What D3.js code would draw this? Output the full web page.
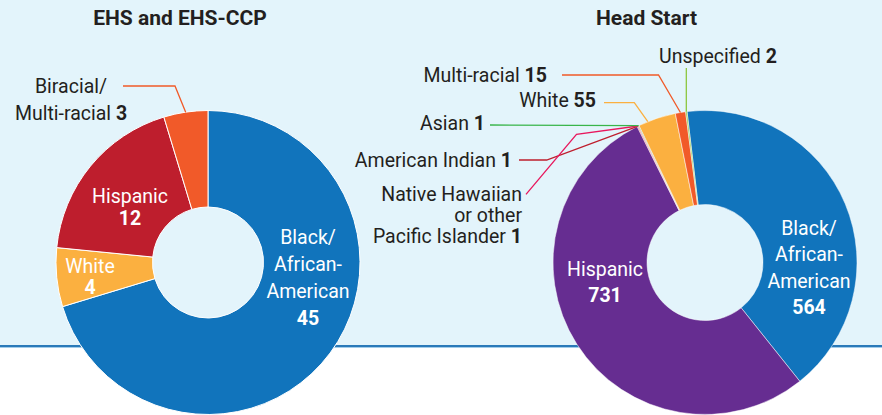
<!DOCTYPE html>
<html>
<head>
<meta charset="utf-8">
<script src="https://cdn.jsdelivr.net/npm/d3@7"></script>
<style>
  body { margin: 0; background: #fff; }
  svg { display: block; font-family: Roboto, "Liberation Sans", sans-serif; }
</style>
</head>
<body>
<svg id="chart" width="882" height="415"></svg>
<script>
// data
const ehsCategories = ["Black/African-American", "White", "Hispanic", "Biracial/Multi-racial"];
const ehsValues = [45, 4, 12, 3];
const ehsColors = ["#1174bc", "#fbb040", "#be1e2d", "#f15a29"];

const hsCategories = ["Black/African-American", "Hispanic", "American Indian",
  "Native Hawaiian or other Pacific Islander", "Asian", "White", "Multi-racial", "Unspecified"];
const hsValues = [564, 731, 1, 1, 1, 55, 15, 2];
const hsColors = ["#1174bc", "#662d91", "#be1e2d", "#e8175d", "#39b54a", "#fbb040", "#f15a29", "#8dc63f"];

const dark = "#231f20";

// label layout (text lines, position, leader lines)
const ehsLabels = {
  "Black/African-American": { lines: ["Black/", "African-", "American"], x: 308, y: 244.3, lh: 27, anchor: "middle", fill: "#fff", own: true },
  "White": { lines: ["White"], x: 90, y: 272.5, lh: 21.5, anchor: "middle", fill: "#fff", own: true },
  "Hispanic": { lines: ["Hispanic"], x: 130, y: 203, lh: 22, anchor: "middle", fill: "#fff", own: true },
  "Biracial/Multi-racial": { lines: ["Biracial/", "Multi-racial"], x: 71, y: 93, lh: 27, anchor: "middle", fill: dark, own: false,
    leader: { from: [123, 86], via: [175, 86], at: 0.5, color: "#f15a29" } }
};
const hsLabels = {
  "Black/African-American": { lines: ["Black/", "African-", "American"], x: 809, y: 235, lh: 26.4, anchor: "middle", fill: "#fff", own: true },
  "Hispanic": { lines: ["Hispanic"], x: 605, y: 276, lh: 25.7, anchor: "middle", fill: "#fff", own: true },
  "American Indian": { lines: ["American Indian"], x: 512, y: 166.7, anchor: "end", fill: dark, own: false,
    leader: { from: [519, 160], via: [546.7, 160], at: 0.5, color: "#be1e2d" } },
  "Native Hawaiian or other Pacific Islander": { lines: ["Native Hawaiian", "or other", "Pacific Islander"], x: 522, y: 200.5, lh: 21, anchor: "end", fill: dark, own: false,
    leader: { from: [526, 194.3], via: [576.5, 134.3], at: 0.5, color: "#e8175d" } },
  "Asian": { lines: ["Asian"], x: 485, y: 130, anchor: "end", fill: dark, own: false,
    leader: { from: [490, 125], via: null, at: 0.5, color: "#39b54a" } },
  "White": { lines: ["White"], x: 596, y: 107.3, anchor: "end", fill: dark, own: false,
    leader: { from: [604, 102.7], via: [634.3, 102.7], at: 0.25, color: "#fbb040" } },
  "Multi-racial": { lines: ["Multi-racial"], x: 547, y: 81.7, anchor: "end", fill: dark, own: false,
    leader: { from: [562, 75], via: [658.5, 75], at: 0.5, color: "#f15a29" } },
  "Unspecified": { lines: ["Unspecified"], x: 659, y: 63.3, anchor: "start", fill: dark, own: false,
    leader: { vertical: 68, at: 0.5, color: "#8dc63f" } }
};

const W = 882, H = 415;
const outerR = 152;
const deg = Math.PI / 180;

const svg = d3.select("#chart");

// background panel + rule
svg.append("rect").attr("width", W).attr("height", 345).attr("fill", "#e3f4fb");
svg.append("rect").attr("y", 345).attr("width", W).attr("height", 2).attr("fill", "#2a7ab9");
svg.append("rect").attr("y", 347).attr("width", W).attr("height", 1).attr("fill", "#a3cdea");

const charts = [
  { title: "EHS and EHS-CCP", titleX: 180, cx: 208, cy: 262.5, inner: 55.5, start: 0,
    cats: ehsCategories, values: ehsValues, colors: ehsColors, labels: ehsLabels, stroke: 1 },
  { title: "Head Start", titleX: 646.5, cx: 705, cy: 262.5, inner: 58, start: -6.8 * deg,
    cats: hsCategories, values: hsValues, colors: hsColors, labels: hsLabels, stroke: 0.5 }
];

const lineGen = d3.line();

charts.forEach(c => {
  svg.append("text")
    .attr("x", c.titleX).attr("y", 25)
    .attr("text-anchor", "middle")
    .attr("font-size", 21).attr("font-weight", "bold")
    .attr("fill", dark)
    .text(c.title);

  const color = d3.scaleOrdinal().domain(c.cats).range(c.colors);
  const pie = d3.pie().sort(null).value((d, i) => c.values[i])
    .startAngle(c.start).endAngle(c.start + 2 * Math.PI);
  const arcs = pie(c.cats);
  const arc = d3.arc().innerRadius(c.inner).outerRadius(outerR);

  const g = svg.append("g").attr("transform", `translate(${c.cx},${c.cy})`);
  g.selectAll("path.slice").data(arcs).enter().append("path")
    .attr("class", "slice")
    .attr("d", arc)
    .attr("fill", d => color(d.data))
    .attr("stroke", "#fff")
    .attr("stroke-width", c.stroke);

  const lab = svg.append("g");
  arcs.forEach((d, i) => {
    const L = c.labels[d.data];
    if (!L) return;
    const value = c.values[i];

    if (L.leader) {
      const a = d.startAngle + (d.endAngle - d.startAngle) * L.leader.at;
      const end = [c.cx + outerR * Math.sin(a), c.cy - outerR * Math.cos(a)];
      let pts;
      if (L.leader.vertical != null) pts = [[end[0], L.leader.vertical], end];
      else pts = L.leader.via ? [L.leader.from, L.leader.via, end] : [L.leader.from, end];
      lab.append("path")
        .attr("d", lineGen(pts))
        .attr("fill", "none")
        .attr("stroke", L.leader.color)
        .attr("stroke-width", 1.3);
    }

    const t = lab.append("text")
      .attr("font-size", 19.5)
      .attr("fill", L.fill)
      .attr("text-anchor", L.anchor);
    L.lines.forEach((line, k) => {
      t.append("tspan").attr("x", L.x).attr("y", L.y + k * (L.lh || 0)).text(line);
    });
    if (L.own) {
      t.append("tspan").attr("x", L.x).attr("y", L.y + L.lines.length * L.lh)
        .attr("font-weight", "bold").text(value);
    } else {
      t.append("tspan").text(" ");
      t.append("tspan").attr("font-weight", "bold").text(value);
    }
  });
});
</script>
</body>
</html>
